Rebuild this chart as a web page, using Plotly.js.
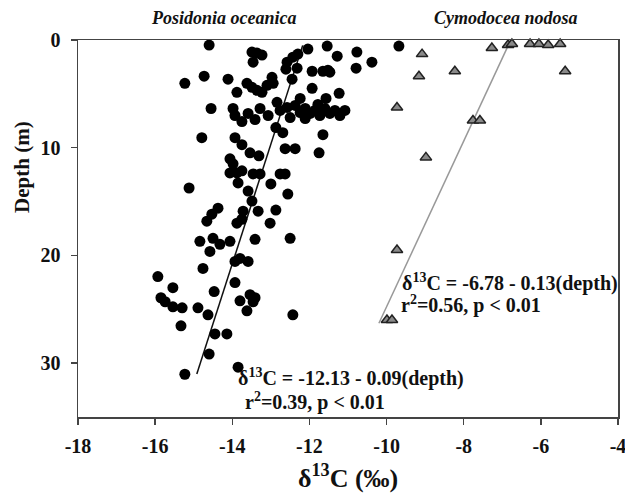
<!DOCTYPE html>
<html>
<head>
<meta charset="utf-8">
<script src="https://cdn.plot.ly/plotly-3.0.1.min.js"></script>
<style>
html,body{margin:0;padding:0;background:#fff}
#chart{width:625px;height:493px}
</style>
</head>
<body>
<div id="chart"></div>
<script>
// Posidonia oceanica: d13C (x) and depth (m)
const poX = [-14.60,-13.49,-13.36,-13.23,-13.46,-12.58,-12.43,-12.30,-12.04,-11.54,-11.28,-10.77,-10.38,-10.79,-12.32,-12.61,-11.93,-11.65,-11.52,-11.47,-9.68,
  -15.23,-14.73,-14.11,-13.88,-13.62,-13.49,-13.36,-13.23,-13.10,-12.97,-12.94,-12.45,-11.93,-11.23,-11.57,-12.24,
  -14.55,-13.98,-13.93,-13.75,-13.59,-13.41,-13.28,-13.07,-12.84,-12.76,-12.58,-12.37,-12.24,-12.11,-11.98,-11.86,-11.73,-11.60,-11.47,-11.34,-11.21,-11.78,-11.08,-12.50,-12.11,
  -14.79,-13.93,-13.75,-13.54,-13.31,-12.87,-12.69,-12.63,-12.37,-11.65,-11.75,
  -14.06,-13.98,-14.06,-13.88,-13.75,-13.85,-13.46,-13.28,-12.76,-12.63,-13.00,-13.59,-12.56,-13.49,-15.12,
  -14.37,-14.53,-14.66,-13.72,-13.33,-12.87,-13.88,-13.75,-13.02,
  -14.84,-14.50,-14.32,-14.06,-13.41,-12.50,-14.58,-13.93,-13.80,-13.59,-14.76,
  -15.93,-15.54,-15.85,-15.74,-15.54,-15.30,-14.89,-14.63,-15.33,-14.47,-13.93,-13.80,-13.54,-13.41,-13.46,-13.62,-12.43,
  -14.45,-14.14,-14.60,-15.23,-13.85];
const poDepth = [0.47,1.12,1.21,1.40,2.06,2.06,1.59,1.31,0.84,0.56,1.50,1.12,2.06,2.62,2.62,2.71,2.90,2.90,2.80,2.99,0.56,
  4.02,3.36,3.64,4.86,4.02,4.39,4.67,4.86,4.21,3.46,4.02,3.64,4.49,4.95,5.42,5.42,
  6.36,6.36,7.01,7.57,6.82,7.38,6.36,7.01,5.79,6.54,6.26,6.07,6.73,6.36,6.82,6.54,7.01,6.36,6.82,6.54,7.01,5.98,6.54,7.20,7.29,
  9.07,9.07,9.72,10.47,10.75,8.13,8.60,10.09,10.09,8.79,10.47,
  11.03,11.50,12.34,12.34,12.15,13.27,12.43,12.43,12.43,12.43,13.36,14.02,14.30,14.95,13.74,
  15.61,16.17,16.82,15.89,15.89,15.79,17.01,16.64,17.01,
  18.69,18.41,18.97,18.69,18.50,18.41,19.63,20.56,20.28,20.56,21.21,
  21.96,22.99,23.93,24.30,24.77,24.86,24.86,25.51,26.54,23.36,22.52,24.21,23.64,23.93,24.30,25.14,25.51,
  27.29,27.29,29.16,31.03,30.37];

// Cymodocea nodosa
const cnX = [-9.08,-9.16,-8.23,-9.73,-7.27,-6.85,-6.75,-6.28,-6.05,-5.81,-5.50,-5.37,-7.76,-7.58,-8.98,-9.73,-9.99,-9.86];
const cnDepth = [1.31,3.36,2.90,6.26,0.75,0.47,0.37,0.37,0.37,0.47,0.37,2.90,7.48,7.48,10.9,19.5,26.0,26.0];

// Regression fits: d13C = a + b*depth, drawn over depth range
const poFit = [-12.13, -0.09];
const poFitDepth = [0.5, 31];
const cnFit = [-6.78, -0.13];
const cnFitDepth = [0.2, 26.3];

const xTicks = [-18,-16,-14,-12,-10,-8,-6,-4];
const yTicks = [0,10,20,30];

const serif = "Liberation Serif";
const ink = '#111';

const traces = [
  {x: poFitDepth.map(d => poFit[0] + poFit[1]*d), y: poFitDepth, mode:'lines',
   line:{color:'#111', width:1.5}, hoverinfo:'skip'},
  {x: cnFitDepth.map(d => cnFit[0] + cnFit[1]*d), y: cnFitDepth, mode:'lines',
   line:{color:'#999', width:1.5}, hoverinfo:'skip'},
  {x: poX, y: poDepth, mode:'markers', cliponaxis:false,
   marker:{symbol:'circle', size:11, color:'#000'}},
  {x: cnX, y: cnDepth, mode:'markers', cliponaxis:false,
   marker:{symbol:'triangle-up', size:10, color:'#8a8a8a', line:{color:'#222', width:1.5}}}
];

const ann = (x, y, text, extra) => Object.assign({xref:'x', yref:'y', x, y, text, showarrow:false,
  font:{family:serif, size:20, color:ink}, xanchor:'left', yanchor:'middle'}, extra || {});

const layout = {
  width:625, height:493,
  margin:{l:78, r:7, t:40, b:76},
  showlegend:false,
  paper_bgcolor:'#fff', plot_bgcolor:'#fff',
  font:{family:serif, color:ink},
  xaxis:{
    range:[-18,-4], tickvals:xTicks, ticktext:xTicks.map(v => '<b>' + v + '</b>'),
    showgrid:false, zeroline:false, showline:true, mirror:true, linecolor:'#444', linewidth:1.5,
    ticks:'outside', ticklen:6, tickwidth:1.5, tickcolor:'#444', ticklabelstandoff:4,
    ticklabeloverflow:'allow',
    tickfont:{family:serif, size:20, color:ink, weight:'bold'}
  },
  yaxis:{
    range:[35,0], tickvals:yTicks, ticktext:yTicks.map(v => '<b>' + v + '</b>'),
    showgrid:false, zeroline:false, showline:true, mirror:true, linecolor:'#444', linewidth:1.5,
    ticks:'outside', ticklen:6, tickwidth:1.5, tickcolor:'#444', ticklabelstandoff:6,
    ticklabeloverflow:'allow',
    tickfont:{family:serif, size:20, color:ink, weight:'bold'}
  },
  annotations:[
    {xref:'paper', yref:'paper', x:0.5, y:-0.159, text:'<b>δ<sup>13</sup>C (‰)</b>', showarrow:false,
     font:{family:serif, size:26, color:ink}, xanchor:'center', yanchor:'middle'},
    {xref:'paper', yref:'paper', x:-0.104, y:0.663, text:'<b>Depth (m)</b>', textangle:-90, showarrow:false,
     font:{family:serif, size:21, color:ink}, xanchor:'center', yanchor:'middle'},
    {xref:'paper', yref:'paper', x:0.27, y:1.058, text:'<b><i>Posidonia oceanica</i></b>', showarrow:false,
     font:{family:serif, size:18, color:ink}, xanchor:'center', yanchor:'middle'},
    {xref:'paper', yref:'paper', x:0.792, y:1.058, text:'<b><i>Cymodocea nodosa</i></b>', showarrow:false,
     font:{family:serif, size:18, color:ink}, xanchor:'center', yanchor:'middle'},
    ann(-13.91, 31.3, '<b>δ<sup>13</sup>C = -12.13 - 0.09(depth)</b>'),
    ann(-13.73, 33.6, '<b>r<sup>2</sup>=0.39, p < 0.01</b>'),
    ann(-9.66, 22.5, '<b>δ<sup>13</sup>C = -6.78 - 0.13(depth)</b>'),
    ann(-9.68, 24.6, '<b>r<sup>2</sup>=0.56, p < 0.01</b>')
  ]
};

const boldTicks = () => {
  document.querySelectorAll('#chart .xtick text, #chart .ytick text, #chart .xtick tspan, #chart .ytick tspan')
    .forEach(t => { t.style.fontWeight = 'bold'; t.setAttribute('font-weight', 'bold'); });
};

Plotly.newPlot('chart', traces, layout, {displayModeBar:false, staticPlot:true}).then(gd => {
  boldTicks();
  gd.on('plotly_afterplot', boldTicks);
});
</script>
</body>
</html>
